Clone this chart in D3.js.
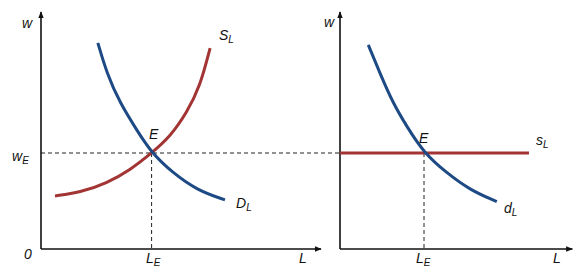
<!DOCTYPE html>
<html>
<head>
<meta charset="utf-8">
<script src="https://cdn.jsdelivr.net/npm/d3@7"></script>
<style>
  body { margin: 0; background: #fff; }
  text { font-family: "Liberation Sans", Arial, sans-serif; font-style: italic; fill: #111; }
</style>
</head>
<body>
<div id="chart"></div>
<script>
// Equilibrium values (L units, w units)
var LE_left = 3.95,
    LE_right = 3.0,
    wE = 4.05;

// Left panel: market demand D_L and supply S_L
var demandLeft = [[2.03, 8.70], [2.35, 7.41], [2.82, 6.16], [3.42, 5.02], [3.95, 4.05],
                  [4.71, 3.21], [5.56, 2.49], [6.57, 2.07]];
var supplyLeft = [[0.50, 2.24], [1.39, 2.38], [2.35, 2.78], [3.18, 3.33], [3.95, 4.05],
                  [4.61, 4.74], [5.20, 5.74], [5.68, 6.85], [6.04, 8.48]];

// Right panel: firm demand d_L and flat supply s_L
var demandRight = [[1.01, 8.61], [1.43, 7.41], [1.89, 6.16], [2.39, 5.16], [3.0, 4.05],
                   [3.81, 3.21], [4.64, 2.49], [5.60, 2.00]];
var supplyRight = [[0, 4.05], [6.75, 4.05]];

// Axis extents
var xMaxLeft = 10, xMaxRight = 8.3, yMax = 10;

var width = 584, height = 276;
var blue = '#1d4a85', red = '#a23434';

var svg = d3.select('#chart')
            .append('svg')
            .attr('width', width)
            .attr('height', height);

// arrowhead marker
svg.append('defs').append('marker')
   .attr('id', 'arrow')
   .attr('viewBox', '0 0 10 10')
   .attr('refX', 9)
   .attr('refY', 5)
   .attr('markerWidth', 7)
   .attr('markerHeight', 7)
   .attr('markerUnits', 'userSpaceOnUse')
   .attr('orient', 'auto')
  .append('path')
   .attr('d', 'M0,1 L10,5 L0,9 Z')
   .attr('fill', '#111');

// scales
var y = d3.scaleLinear().domain([0, 10]).range([249, 12]);
var xLeft = d3.scaleLinear().domain([0, 10]).range([41, 321]);
var xRight = d3.scaleLinear().domain([0, 10]).range([340, 620]);

function line(x) {
  return d3.line()
           .x(function(d) { return x(d[0]); })
           .y(function(d) { return y(d[1]); })
           .curve(d3.curveBasis);
}

// dashed guides
var dashed = svg.append('g')
                .attr('stroke', '#222')
                .attr('stroke-width', 1)
                .attr('stroke-dasharray', '4,3');

dashed.append('line')
      .attr('x1', xLeft(0)).attr('x2', xRight(0))
      .attr('y1', y(wE)).attr('y2', y(wE));

dashed.append('line')
      .attr('x1', xLeft(LE_left)).attr('x2', xLeft(LE_left))
      .attr('y1', y(wE)).attr('y2', y(0));

dashed.append('line')
      .attr('x1', xRight(LE_right)).attr('x2', xRight(LE_right))
      .attr('y1', y(wE)).attr('y2', y(0));

// axes
function drawAxes(x, xMax) {
  var g = svg.append('g')
             .attr('stroke', '#111')
             .attr('stroke-width', 1.6)
             .attr('fill', 'none');
  g.append('path')
   .attr('d', 'M' + x(0) + ',' + y(0) + ' L' + x(0) + ',' + y(yMax))
   .attr('marker-end', 'url(#arrow)');
  g.append('path')
   .attr('d', 'M' + x(0) + ',' + y(0) + ' L' + x(xMax) + ',' + y(0))
   .attr('marker-end', 'url(#arrow)');
}
drawAxes(xLeft, xMaxLeft);
drawAxes(xRight, xMaxRight);

// curves
var curves = [
  {data: supplyLeft, x: xLeft, color: red},
  {data: demandLeft, x: xLeft, color: blue},
  {data: supplyRight, x: xRight, color: red},
  {data: demandRight, x: xRight, color: blue}
];

svg.append('g')
   .selectAll('path')
   .data(curves)
   .enter()
   .append('path')
    .attr('d', function(d) { return line(d.x)(d.data); })
    .attr('fill', 'none')
    .attr('stroke', function(d) { return d.color; })
    .attr('stroke-width', 3)
    .attr('stroke-linecap', 'butt');

// labels: [text, subscript, x, y]
var labels = [
  ['w', '', 22, 28],
  ['S', 'L', 219, 40],
  ['E', '', 149, 139],
  ['w', 'E', 12, 161],
  ['D', 'L', 236, 208],
  ['0', '', 24, 259],
  ['L', 'E', 146, 263],
  ['L', '', 299, 263],
  ['w', '', 324, 27],
  ['E', '', 419, 143],
  ['s', 'L', 536, 145],
  ['d', 'L', 504, 213],
  ['L', 'E', 416, 263],
  ['L', '', 553, 263]
];

var lab = svg.append('g')
             .selectAll('text')
             .data(labels)
             .enter()
             .append('text')
              .attr('x', function(d) { return d[2]; })
              .attr('y', function(d) { return d[3]; })
              .attr('font-size', 14);

lab.append('tspan')
   .text(function(d) { return d[0]; });

lab.append('tspan')
   .attr('font-size', 10)
   .attr('dy', 3)
   .text(function(d) { return d[1]; });
</script>
</body>
</html>
